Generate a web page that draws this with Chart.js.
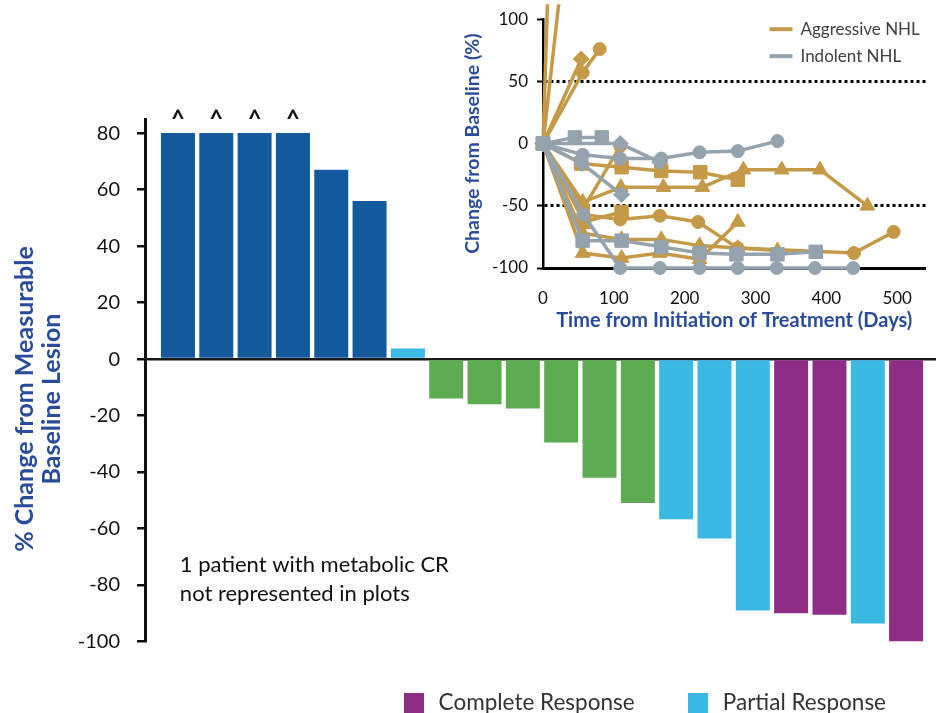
<!DOCTYPE html>
<html>
<head>
<meta charset="utf-8">
<title>Best change from baseline and change over time</title>
<script src="https://cdn.jsdelivr.net/npm/chart.js@4/dist/chart.umd.min.js"></script>
<style>
  html, body { margin: 0; padding: 0; background: #fff; overflow: hidden; }
  #page { position: relative; width: 936px; height: 713px; overflow: hidden; }
  #mainBox { position: absolute; left: 0; top: 0; }
  #insetBox { position: absolute; left: 455px; top: 0; }
</style>
</head>
<body>
<div id="page">
  <div id="mainBox"><canvas id="waterfall" width="936" height="724"></canvas></div>
  <div id="insetBox"><canvas id="spider" width="481" height="340"></canvas></div>
</div>
<script>
// ---------- Waterfall: best % change in measurable baseline lesion ----------
const patientRank   = [1, 2, 3, 4, 5, 6, 7, 8, 9, 10, 11, 12, 13, 14, 15, 16, 17, 18, 19, 20];
const bestChangePct = [80, 80, 80, 80, 67, 56, 3.7, -14, -16, -17.5, -29.5, -42, -51, -56.7, -63.5, -89, -90, -90.5, -93.6, -100];
const bestResponse  = ['PD', 'PD', 'PD', 'PD', 'PD', 'PD', 'PR', 'SD', 'SD', 'SD', 'SD', 'SD', 'SD', 'PR', 'PR', 'PR', 'CR', 'CR', 'PR', 'CR'];
// bars truncated at +80% (marked with ^)
const truncatedBar  = [true, true, true, true, false, false, false, false, false, false, false, false, false, false, false, false, false, false, false, false];
const waterfallTicks = [-100, -80, -60, -40, -20, 0, 20, 40, 60, 80];
const responseCodes  = ['PD', 'SD', 'PR', 'CR'];
const responseLabels = ['Progressive Disease', 'Stable Disease', 'Partial Response', 'Complete Response'];
const responseColors = ['#135a9d', '#5dac52', '#3bb8e3', '#8e2d86'];
const legendCodes    = ['CR', 'PR'];
const noteLines      = ['1 patient with metabolic CR', 'not represented in plots'];

// ---------- Spider plot: change from baseline over time (days, %) ----------
const insetDayTicks = [0, 100, 200, 300, 400, 500];
const insetPctTicks = [-100, -50, 0, 50, 100];

// Aggressive NHL
const aggrRiseCircle   = [[0, 0], [56, 57], [80, 76]];
const aggrRiseDiamond  = [[0, 0], [54, 68]];
const aggrSteepA       = [[0, 0], [14, 250]];
const aggrSteepB       = [[0, 0], [45, 228]];
const aggrSquareA      = [[0, 0], [54, -16], [111, -19], [167, -22], [222, -23], [275, -29]];
const aggrTriangleA    = [[0, 0], [56, -47], [110, -35], [170, -35], [225, -35], [283, -21], [337, -21], [391, -21], [458, -50]];
const aggrCircleB      = [[0, 0], [57, -52], [109, -2]];
const aggrCircleC      = [[0, 0], [57, -57], [109, -61], [165, -58], [219, -63], [275, -84], [439, -88], [495, -71]];
const aggrSquareB      = [[0, 0], [58, -63], [111, -55]];
const aggrTriangleB    = [[0, 0], [56, -88], [111, -92], [165, -88], [221, -93], [275, -63]];
const aggrTriangleC    = [[0, 0], [56, -72], [111, -77], [167, -77], [221, -82], [275, -84], [331, -86]];

// Indolent NHL
const indSquareA   = [[0, 0], [45, 5], [83, 5]];
const indDiamondA  = [[0, 0], [109, 0], [165, -15]];
const indCircleA   = [[0, 0], [56, -9], [109, -12], [167, -12], [221, -7], [275, -6], [331, 2]];
const indDiamondB  = [[0, 0], [55, -16], [111, -41]];
const indSquareB   = [[0, 0], [56, -78], [111, -78], [167, -83], [221, -88], [273, -89], [331, -89], [385, -87]];
const indCircleB   = [[0, 0], [57, -57], [109, -100], [165, -100], [221, -100], [275, -100], [330, -100], [384, -100], [438, -100]];

const groupNames  = ['Aggressive NHL', 'Indolent NHL'];
const groupColors = ['#c49a48', '#94a3ad'];

const FONT = 'Lato, "Open Sans", "DejaVu Sans", sans-serif';
const TITLE_BLUE = '#2a4b9b';

// ---------------- waterfall chart ----------------
function swatch(color) {
  const c = document.createElement('canvas');
  c.width = 20; c.height = 20;
  const g = c.getContext('2d');
  g.fillStyle = color;
  g.fillRect(0, 0, 20, 20);
  return c;
}

const barDatasets = responseCodes.map((code, k) => ({
  label: responseLabels[k],
  code: code,
  data: patientRank
    .map((rank, i) => (bestResponse[i] === code ? { x: rank, y: bestChangePct[i] } : null))
    .filter(p => p !== null),
  backgroundColor: responseColors[k],
  borderWidth: 0,
  grouped: false,
  categoryPercentage: 1,
  barPercentage: 0.887
}));

// "^" above truncated bars and the footnote inside the plot
const waterfallMarks = {
  id: 'waterfallMarks',
  afterDatasetsDraw(chart) {
    const { ctx, scales: { x, y } } = chart;
    ctx.save();
    ctx.fillStyle = '#111';
    ctx.textAlign = 'center';
    ctx.textBaseline = 'middle';
    ctx.font = 'bold 24px ' + FONT;
    patientRank.forEach((rank, i) => {
      if (truncatedBar[i]) {
        ctx.fillText('^', x.getPixelForValue(rank), y.getPixelForValue(bestChangePct[i]) - 13);
      }
    });
    ctx.textAlign = 'left';
    ctx.font = '22px ' + FONT;
    ctx.fillText(noteLines[0], x.getPixelForValue(1.05), y.getPixelForValue(-73));
    ctx.fillText(noteLines[1], x.getPixelForValue(1.05), y.getPixelForValue(-83));
    ctx.restore();
  }
};

new Chart(document.getElementById('waterfall'), {
  type: 'bar',
  data: { datasets: barDatasets },
  plugins: [waterfallMarks],
  options: {
    responsive: false,
    animation: false,
    devicePixelRatio: 1,
    layout: { padding: { top: 119, left: 0, right: 0, bottom: 0 } },
    scales: {
      x: {
        type: 'linear',
        display: false,
        min: 0.14,
        max: 20.78,
        offset: false
      },
      y: {
        min: -100,
        max: 85,
        z: 1,
        afterBuildTicks: s => { s.ticks = waterfallTicks.map(v => ({ value: v })); },
        afterFit: s => { s.width = 145; },
        grid: {
          color: c => (c.tick && c.tick.value === 0 ? '#1a1a1a' : 'rgba(0,0,0,0)'),
          lineWidth: 2.5,
          drawTicks: true,
          tickLength: 8,
          tickColor: '#111',
          tickWidth: 2.5
        },
        border: { display: true, color: '#111', width: 3 },
        ticks: {
          color: '#111',
          padding: 17,
          font: { family: FONT, size: 20 }
        },
        title: {
          display: true,
          // en spaces keep the two centred lines a little below the axis midpoint
          text: ['% Change from Measurable\u2002\u2002\u2002', 'Baseline Lesion\u2002\u2002\u2002'],
          color: TITLE_BLUE,
          font: { family: FONT, size: 25, weight: 'bold', lineHeight: 27 / 25 },
          padding: { top: 11, bottom: 0 }
        }
      }
    },
    plugins: {
      tooltip: { enabled: false },
      legend: {
        position: 'bottom',
        align: 'end',
        fullSize: false,
        labels: {
          color: '#333',
          padding: 50,
          usePointStyle: true,
          pointStyleWidth: 27,
          boxHeight: 20,
          font: { family: FONT, size: 22.5 },
          generateLabels: chart => legendCodes.map(code => {
            const k = responseCodes.indexOf(code);
            return {
              text: responseLabels[k],
              fillStyle: responseColors[k],
              strokeStyle: responseColors[k],
              lineWidth: 0,
              pointStyle: swatch(responseColors[k]),
              hidden: false,
              datasetIndex: k,
              fontColor: '#333'
            };
          })
        }
      }
    }
  }
});

// ---------------- spider chart ----------------
const markerRadius = { circle: 6.5, rect: 9.5, rectRot: 8, triangle: 8.5 };

function seriesDataset(points, style, groupIndex) {
  const color = groupColors[groupIndex];
  return {
    label: groupNames[groupIndex],
    data: points.map(([day, pct]) => ({ x: day, y: pct })),
    borderColor: color,
    backgroundColor: color,
    pointBackgroundColor: color,
    pointBorderColor: color,
    pointBorderWidth: 1,
    pointStyle: style,
    pointRadius: markerRadius[style],
    borderWidth: 3.5,
    tension: 0,
    clip: { left: 14, top: 15, right: 14, bottom: 14 }
  };
}

const spiderDatasets = [
  seriesDataset(indSquareA, 'rect', 1),
  seriesDataset(indDiamondA, 'rectRot', 1),
  seriesDataset(indCircleA, 'circle', 1),
  seriesDataset(indDiamondB, 'rectRot', 1),
  seriesDataset(indSquareB, 'rect', 1),
  seriesDataset(indCircleB, 'circle', 1),
  seriesDataset(aggrRiseCircle, 'circle', 0),
  seriesDataset(aggrRiseDiamond, 'rectRot', 0),
  seriesDataset(aggrSteepA, 'circle', 0),
  seriesDataset(aggrSteepB, 'circle', 0),
  seriesDataset(aggrSquareA, 'rect', 0),
  seriesDataset(aggrTriangleA, 'triangle', 0),
  seriesDataset(aggrCircleB, 'circle', 0),
  seriesDataset(aggrCircleC, 'circle', 0),
  seriesDataset(aggrSquareB, 'rect', 0),
  seriesDataset(aggrTriangleB, 'triangle', 0),
  seriesDataset(aggrTriangleC, 'triangle', 0)
];

// two-row line legend in the upper right of the plot
const groupLegend = {
  id: 'groupLegend',
  afterDraw(chart) {
    const { ctx, chartArea } = chart;
    ctx.save();
    ctx.font = '17px ' + FONT;
    ctx.textBaseline = 'middle';
    ctx.textAlign = 'left';
    groupNames.forEach((name, i) => {
      const yy = chartArea.top + 10 + i * 27;
      ctx.strokeStyle = groupColors[i];
      ctx.lineWidth = 4;
      ctx.beginPath();
      ctx.moveTo(chartArea.right - 156, yy);
      ctx.lineTo(chartArea.right - 133, yy);
      ctx.stroke();
      ctx.fillStyle = '#404040';
      ctx.fillText(name, chartArea.right - 125, yy);
    });
    ctx.restore();
  }
};

new Chart(document.getElementById('spider'), {
  type: 'line',
  data: { datasets: spiderDatasets },
  plugins: [groupLegend],
  options: {
    responsive: false,
    animation: false,
    devicePixelRatio: 1,
    layout: { padding: { top: 11, left: 0, right: 8, bottom: 0 } },
    scales: {
      x: {
        type: 'linear',
        min: 0,
        max: 540,
        afterBuildTicks: s => { s.ticks = insetDayTicks.map(v => ({ value: v })); },
        afterFit: s => { s.height = 72; },
        grid: { display: false },
        border: { display: true, color: '#000', width: 3 },
        ticks: { color: '#111', padding: 12, maxRotation: 0, font: { family: FONT, size: 17 } },
        title: {
          display: true,
          text: 'Time from Initiation of Treatment (Days)',
          color: TITLE_BLUE,
          font: { family: FONT, size: 20, weight: 'bold' },
          padding: { top: 0, bottom: 7 }
        }
      },
      y: {
        min: -100,
        max: 100,
        afterBuildTicks: s => { s.ticks = insetPctTicks.map(v => ({ value: v })); },
        afterFit: s => { s.width = 88; },
        grid: {
          color: c => (c.tick && Math.abs(c.tick.value) === 50 ? '#000' : 'rgba(0,0,0,0)'),
          lineWidth: 3,
          drawTicks: true,
          tickLength: 6,
          tickColor: '#000',
          tickWidth: 2
        },
        border: { display: true, color: '#000', width: 2.5, dash: [3, 3] },
        ticks: { color: '#111', padding: 9, font: { family: FONT, size: 17 } },
        title: {
          display: true,
          text: 'Change from Baseline (%)',
          color: TITLE_BLUE,
          font: { family: FONT, size: 19.5, weight: 'bold' },
          padding: { top: 6, bottom: 0 }
        }
      }
    },
    plugins: {
      legend: { display: false },
      tooltip: { enabled: false }
    }
  }
});
</script>
</body>
</html>
